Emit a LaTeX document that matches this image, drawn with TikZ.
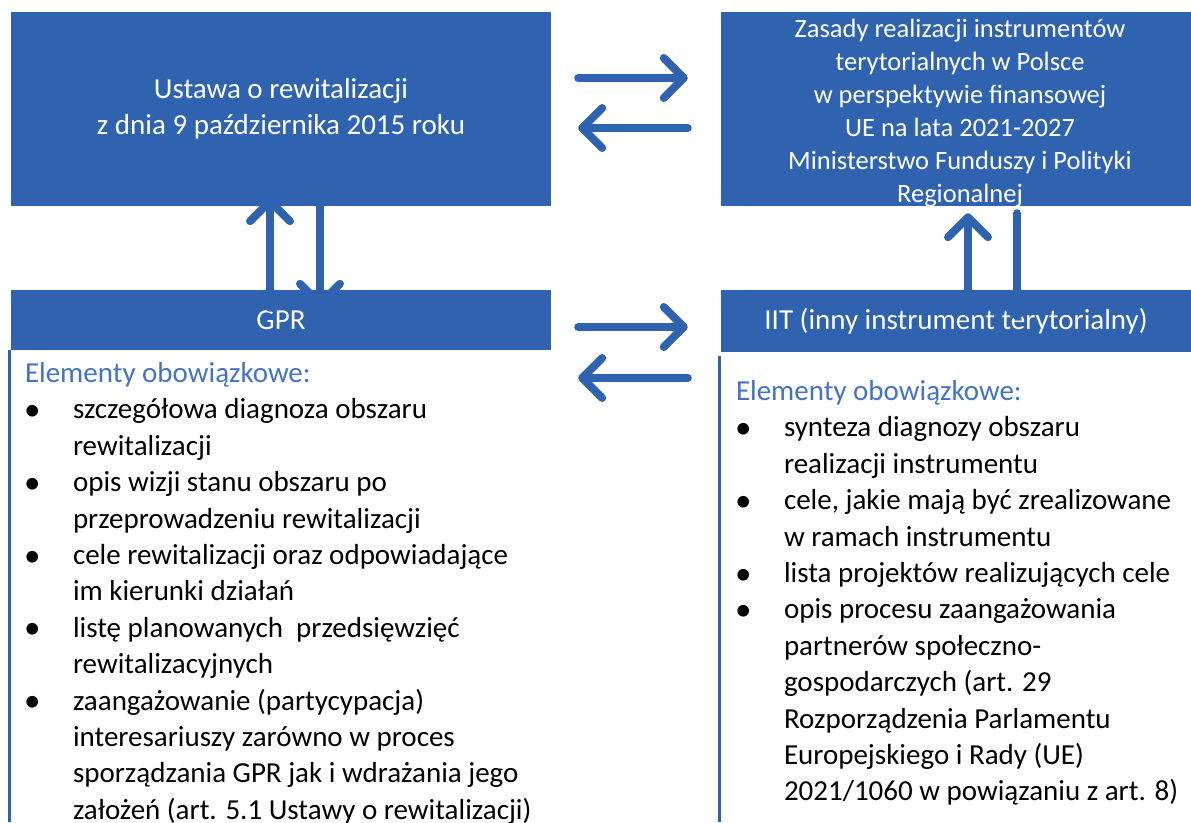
\documentclass[tikz,border=0pt]{standalone}
\usepackage{fontspec}
\setmainfont{Carlito}
\usetikzlibrary{positioning, arrows.meta}

\definecolor{boxblue}{RGB}{48,99,175}
\definecolor{headblue}{RGB}{68,114,196}
\newcommand{\bul}{\makebox[48pt][l]{\hspace{-1pt}\raisebox{-1.5pt}{\fontsize{33}{33}\selectfont\textbullet}}}
\newcommand{\cont}{\hspace*{48pt}}

\begin{document}
\begin{tikzpicture}[x=1pt, y=-1pt,
  every node/.style={font=\fontsize{29}{36.4}\selectfont},
  topbox/.style={fill=boxblue, text=white, align=center, inner sep=0pt},
  boxtext/.style={text=white, inner sep=0pt},
  listbox/.style={anchor=north west, align=left, inner sep=0pt, text=black},
  sideline/.style={draw=boxblue, line width=3pt},
  twoway/.style={draw=boxblue, line width=8pt, line cap=round,
    -{Straight Barb[length=20pt, width=40pt, round]}}]
\useasboundingbox (0,0) rectangle (1191,822);

% top row
\node (ustawa) [topbox, minimum width=540, minimum height=194,
  font=\fontsize{29}{36}\selectfont] at (281,109)
  {Ustawa o rewitalizacji\\z dnia 9 października 2015 roku};
\node (zasady) [topbox, minimum width=470, minimum height=194] at (956,109) {};
\node (zasadytxt) [boxtext, align=center, font=\fontsize{26.5}{33}\selectfont]
  at ([xshift=4pt, yshift=-4pt]zasady.center)
  {Zasady realizacji instrumentów\\terytorialnych w Polsce\\w perspektywie finansowej\\UE na lata 2021-2027\\Ministerstwo Funduszy i Polityki\\Regionalnej};

% bottom row headers
\node (gpr) [topbox, minimum width=540, minimum height=60] at (281,320) {GPR};
\node (iit) [topbox, minimum width=470, minimum height=62] at (956,321)
  {IIT (inny instrument terytorialny)};

% lists
\node (gprlist) [listbox] at ([xshift=14pt, yshift=-12pt]gpr.south west) {%
\textcolor{headblue}{Elementy obowiązkowe:}\\
\bul szczegółowa diagnoza obszaru\\
\cont rewitalizacji\\
\bul opis wizji stanu obszaru po\\
\cont przeprowadzeniu rewitalizacji\\
\bul cele rewitalizacji oraz odpowiadające\\
\cont im kierunki działań\\
\bul listę planowanych\ \ przedsięwzięć\\
\cont rewitalizacyjnych\\
\bul zaangażowanie (partycypacja)\\
\cont interesariuszy zarówno w proces\\
\cont sporządzania GPR jak i wdrażania jego\\
\cont założeń (art. 5.1 Ustawy o rewitalizacji)};
\node (iitlist) [listbox] at ([xshift=15pt, yshift=-28pt]iit.south west) {%
\textcolor{headblue}{Elementy obowiązkowe:}\\
\bul synteza diagnozy obszaru\\
\cont realizacji instrumentu\\
\bul cele, jakie mają być zrealizowane\\
\cont w ramach instrumentu\\
\bul lista projektów realizujących cele\\
\bul opis procesu zaangażowania\\
\cont partnerów społeczno-\\
\cont gospodarczych (art. 29\\
\cont Rozporządzenia Parlamentu\\
\cont Europejskiego i Rady (UE)\\
\cont 2021/1060 w powiązaniu z art. 8)};
\draw[sideline] ([xshift=-1pt]gpr.south west) -- ([xshift=-1pt]gpr.south west |- 0,822);
\draw[sideline] ([xshift=-1pt, yshift=-4pt]iit.south west) -- ([xshift=-1pt]iit.south west |- 0,822);

% arrows
\draw[twoway, shorten <=27pt, shorten >=33pt] (ustawa.east |- 0,78) -- (zasady.west |- 0,78);
\draw[twoway, shorten <=33pt, shorten >=27pt] (zasady.west |- 0,128) -- (ustawa.east |- 0,128);
\draw[twoway, shorten <=27pt, shorten >=33pt] (gpr.east |- 0,327) -- (iit.west |- 0,327);
\draw[twoway, shorten <=33pt, shorten >=27pt] (iit.west |- 0,378) -- (gpr.east |- 0,378);
\draw[twoway, shorten <=-18pt, shorten >=-9pt] (gpr.north -| 270,0) -- (ustawa.south -| 270,0);
\draw[twoway, shorten <=-9pt, shorten >=-18pt] (ustawa.south -| 320,0) -- (gpr.north -| 320,0);
\draw[twoway, shorten <=-23pt, shorten >=7pt] (iit.north -| 968,0) -- (zasady.south -| 968,0);
\draw[twoway, shorten <=7pt, shorten >=-30pt] (zasady.south -| 1017,0) -- (iit.north -| 1017,0);
\end{tikzpicture}
\end{document}
